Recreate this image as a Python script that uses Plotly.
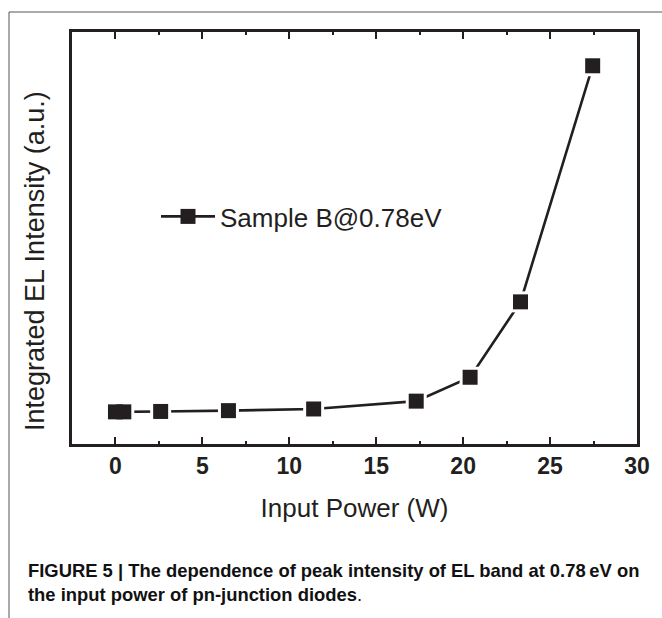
import plotly.graph_objects as go

# Data (y in arbitrary units)
power_w = [0.0, 0.48, 2.6, 6.5, 11.4, 17.3, 20.4, 23.3, 27.45]
intensity_au = [0.78, 0.78, 0.79, 0.81, 0.85, 1.04, 1.62, 3.45, 9.18]
series_name = "Sample B@0.78eV"
x_ticks = [0, 5, 10, 15, 20, 25, 30]
x_minor_ticks = [2.5, 7.5, 12.5, 17.5, 22.5, 27.5]

INK = "#231f20"
FONT = "Liberation Sans, Arial, sans-serif"

fig = go.Figure()
# connecting line
fig.add_trace(go.Scatter(x=power_w, y=intensity_au, mode="lines",
                         line=dict(color=INK, width=2.6),
                         showlegend=False, hoverinfo="skip"))
# white halo that opens small gaps between line and markers
fig.add_trace(go.Scatter(x=power_w, y=intensity_au, mode="markers",
                         marker=dict(symbol="square", size=21, color="white"),
                         showlegend=False, hoverinfo="skip"))
# markers
fig.add_trace(go.Scatter(x=power_w, y=intensity_au, mode="markers",
                         marker=dict(symbol="square", size=15, color=INK),
                         name=series_name, showlegend=False))
# legend entry
fig.add_trace(go.Scatter(x=[None], y=[None], mode="lines+markers",
                         line=dict(color=INK, width=2.6),
                         marker=dict(symbol="square", size=15, color=INK),
                         name=series_name, showlegend=True))

W, H = 662, 618
L, R, T, B = 72, 25, 32, 174
pw = W - L - R
ph = H - T - B

def px_x(px):
    return (px - L) / pw

def px_y(py):
    return (H - B - py) / ph

frame = dict(color="#555555", width=1)
fig.add_shape(type="line", xref="paper", yref="paper",
              x0=px_x(9), x1=px_x(663), y0=px_y(12), y1=px_y(12), line=frame)
fig.add_shape(type="line", xref="paper", yref="paper",
              x0=px_x(9), x1=px_x(9), y0=px_y(12), y1=px_y(619), line=frame)

fig.add_annotation(xref="paper", yref="paper", x=px_x(26), y=px_y(558),
                   xanchor="left", yanchor="top", align="left",
                   showarrow=False,
                   text="<b>FIGURE 5 | The dependence of peak intensity of EL band at 0.78\u2009eV on<br>"
                        "the input power of pn-junction diodes</b>.",
                   font=dict(family=FONT, size=18.4, color="#111111"))

# y-axis title (sits slightly below the plot centre in the reference)
fig.add_annotation(xref="paper", yref="paper", x=px_x(35), y=px_y(261),
                   xanchor="center", yanchor="middle", textangle=-90,
                   showarrow=False, text="Integrated EL Intensity (a.u.)",
                   font=dict(size=27, family=FONT, color=INK))

fig.update_layout(
    width=W, height=H,
    margin=dict(l=L, r=R, t=T, b=B, autoexpand=False),
    paper_bgcolor="white", plot_bgcolor="white",
    font=dict(family=FONT, color=INK),
    legend=dict(x=px_x(156), y=px_y(193), xanchor="left", yanchor="top",
                bgcolor="rgba(0,0,0,0)", borderwidth=0,
                font=dict(size=26, family=FONT, color=INK), itemwidth=54),
    xaxis=dict(range=[-2.5, 30], tickvals=x_ticks,
               ticktext=[f"<b>{v}</b>" for v in x_ticks],
               showgrid=False, zeroline=False,
               showline=True, linecolor=INK, linewidth=2.6, mirror="ticks",
               ticks="inside", ticklen=7, tickwidth=2, tickcolor=INK,
               minor=dict(tickvals=x_minor_ticks,
                          ticks="inside", ticklen=3, tickwidth=2, tickcolor=INK),
               tickfont=dict(size=23, family=FONT, color=INK),
               title=dict(text="Input Power (W)", font=dict(size=26, family=FONT, color=INK),
                          standoff=21)),
    yaxis=dict(range=[0, 10], showticklabels=False, ticks="",
               showgrid=False, zeroline=False,
               showline=True, linecolor=INK, linewidth=2.6, mirror=True),
)

fig.write_html("out.html", config={"displayModeBar": False},
               post_script="document.body.style.margin='0px';")
